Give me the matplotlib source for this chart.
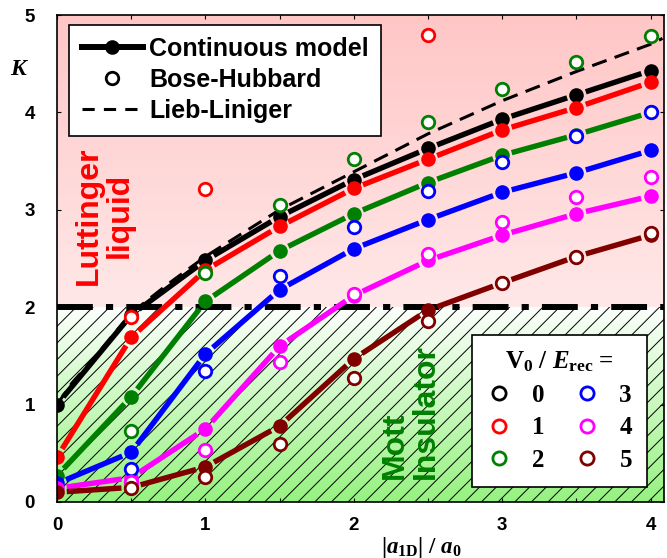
import numpy as np
import matplotlib
matplotlib.use("Agg")
import matplotlib.pyplot as plt
from matplotlib.lines import Line2D
from matplotlib.patches import Rectangle

# ---------------- data ----------------
x_vals = [0, 0.5, 1, 1.5, 2, 2.5, 3, 3.5, 4]
cont_V0 = [1.00, 1.92, 2.48, 2.93, 3.31, 3.63, 3.93, 4.18, 4.43]
cont_V1 = [0.46, 1.69, 2.38, 2.83, 3.22, 3.52, 3.82, 4.05, 4.31]
cont_V2 = [0.27, 1.08, 2.06, 2.58, 2.96, 3.28, 3.56, 3.77, 4.00]
cont_V3 = [0.19, 0.51, 1.52, 2.18, 2.60, 2.90, 3.18, 3.38, 3.61]
cont_V4 = [0.14, 0.25, 0.75, 1.60, 2.12, 2.48, 2.74, 2.96, 3.14]
cont_V5 = [0.10, 0.15, 0.36, 0.78, 1.47, 1.97, 2.25, 2.52, 2.74]

bh_x_V1 = [0.5, 1, 2.5]
bh_V1 = [1.90, 3.21, 4.79]
bh_x = [0.5, 1, 1.5, 2, 2.5, 3, 3.5, 4]
bh_V2 = [0.73, 2.35, 3.05, 3.52, 3.90, 4.24, 4.52, 4.78]
bh_V3 = [0.34, 1.35, 2.32, 2.82, 3.19, 3.49, 3.76, 4.00]
bh_V4 = [0.21, 0.53, 1.44, 2.14, 2.55, 2.87, 3.13, 3.34]
bh_V5 = [0.14, 0.26, 0.60, 1.27, 1.86, 2.25, 2.52, 2.76]

ll_x = [0, 0.1, 0.25, 0.5, 0.75, 1, 1.5, 2, 2.5, 3, 3.5, 4, 4.08]
ll_K = [1.00, 1.22, 1.48, 1.94, 2.24, 2.52, 3.00, 3.39, 3.78, 4.12, 4.42, 4.70, 4.76]

K_mott = 2.0
V0_labels = ["0", "1", "2", "3", "4", "5"]
colors = ["black", "#ff0000", "#008000", "#0000ff", "#ff00ff", "#800000"]
xticks = [0, 1, 2, 3, 4]
yticks = [0, 1, 2, 3, 4, 5]

# ---------------- style ----------------
plt.rcParams["mathtext.fontset"] = "custom"
plt.rcParams["mathtext.rm"] = "Liberation Serif:bold"
plt.rcParams["mathtext.bf"] = "Liberation Serif:bold"
plt.rcParams["mathtext.it"] = "Liberation Serif:italic:bold"
plt.rcParams["hatch.linewidth"] = 0.7

SANS = "Liberation Sans"
SERIF = "Liberation Serif"

fig = plt.figure(figsize=(6.67, 5.58), dpi=100)
ax = fig.add_axes([57 / 667, 1 - 502 / 558, 607 / 667, 487 / 558])
XMAX = 4.09
ax.set_xlim(0, XMAX)
ax.set_ylim(0, 5)

# backgrounds
grad = np.linspace(0, 1, 256)[:, None, None]
c_top = np.array([255, 198, 198]) / 255
c_mid = np.array([255, 232, 232]) / 255
img_top = np.repeat(c_mid * (1 - grad) + c_top * grad, 2, axis=1)
ax.imshow(img_top, extent=[0, XMAX, K_mott, 5], origin="lower", aspect="auto", zorder=0)

c_white = np.array([252, 255, 252]) / 255
c_green = np.array([150, 242, 128]) / 255
img_bot = np.repeat(c_green * (1 - grad) + c_white * grad, 2, axis=1)
ax.imshow(img_bot, extent=[0, XMAX, 0, K_mott], origin="lower", aspect="auto", zorder=0)

ax.add_patch(Rectangle((0, 0), XMAX, K_mott, fill=False, hatch="//", edgecolor="black",
                       linewidth=0, zorder=1))
ax.set_xlim(0, XMAX)
ax.set_ylim(0, 5)

# Mott boundary
ax.plot([0, XMAX], [K_mott, K_mott], color="black", lw=4.3, dashes=(6, 2.2, 1.2, 2.2),
        zorder=2)

# Lieb-Liniger
ax.plot(ll_x, ll_K, color="black", lw=2.2, dashes=(5, 2.8), zorder=2.2)

# region texts
ax.text(0.32, 2.94, "Luttinger\nliquid", rotation=90, color="#ff0000", fontsize=23,
        fontweight="bold", family=SANS, ha="center", va="center",
        multialignment="center", zorder=2.5, linespacing=1.05)
ax.text(2.38, 0.93, "Mott\nInsulator", rotation=90, color="#008000", fontsize=23,
        fontweight="bold", family=SANS, ha="center", va="center",
        multialignment="left", zorder=2.5, linespacing=1.05)

# continuous model lines with gaps near markers
MS_F = 10.5
SHRINK = MS_F * 100 / 72 / 2 + 2.5


def gapped_line(xs, ys, color, lw):
    pts = ax.transData.transform(np.column_stack([xs, ys]))
    inv = ax.transData.inverted()
    for p0, p1 in zip(pts[:-1], pts[1:]):
        d = p1 - p0
        L = np.hypot(*d)
        if L <= 2 * SHRINK:
            continue
        u = d / L
        seg = inv.transform(np.array([p0 + u * SHRINK, p1 - u * SHRINK]))
        ax.plot(seg[:, 0], seg[:, 1], color=color, lw=lw, solid_capstyle="butt", zorder=3)


cont = [cont_V0, cont_V1, cont_V2, cont_V3, cont_V4, cont_V5]
for ys, c in zip(cont, colors):
    gapped_line(x_vals, ys, c, 3.9)
    ax.plot(x_vals, ys, ls="none", marker="o", ms=MS_F, mfc=c, mec=c, mew=0, zorder=3)

# Bose-Hubbard points
bh = [(bh_x_V1, bh_V1, colors[1]), (bh_x, bh_V2, colors[2]), (bh_x, bh_V3, colors[3]),
      (bh_x, bh_V4, colors[4]), (bh_x, bh_V5, colors[5])]
for xs, ys, c in bh:
    ax.plot(xs, ys, ls="none", marker="o", ms=9, mfc="white", mec=c, mew=2, zorder=4)

# axes styling
for s in ax.spines.values():
    s.set_linewidth(1.2)
    s.set_zorder(6)
ax.set_xticks(xticks)
ax.set_yticks(yticks)
ax.set_xticks(np.arange(0, 4.01, 0.5), minor=True)
ax.tick_params(axis="both", which="both", direction="in", top=True, right=True,
               length=3, width=0.8)
ax.tick_params(axis="x", which="major", pad=11)
ax.tick_params(axis="y", which="major", pad=16)
for lab in ax.get_xticklabels() + ax.get_yticklabels():
    lab.set_fontfamily(SANS)
    lab.set_fontweight("bold")
    lab.set_fontsize(13.5)

# axis labels
fig.text(20 / 667, 1 - 68 / 558, r"$K$", fontsize=17, ha="center", va="center")
fig.text(421 / 667, 1 - 547 / 558, r"$|a_{\mathrm{1D}}|\ /\ a_{0}$", fontsize=16.5,
         ha="center", va="center")

# legend 1
h1 = [Line2D([], [], color="black", lw=4.3, marker="o", ms=MS_F, mfc="black", mew=0),
      Line2D([], [], ls="none", marker="o", ms=9, mfc="white", mec="black", mew=2),
      Line2D([], [], color="black", lw=2.2, dashes=(4, 3))]
leg1 = ax.legend(h1, ["Continuous model", "Bose-Hubbard", "Lieb-Liniger"],
                 loc="upper left", bbox_to_anchor=(0.02, 0.98), borderaxespad=0,
                 prop={"family": SANS, "weight": "bold", "size": 18},
                 handlelength=2.45, handletextpad=0.25, labelspacing=0.28,
                 borderpad=0.5, fancybox=False, framealpha=1, edgecolor="black")
leg1.get_frame().set_linewidth(1.2)
leg1.set_zorder(7)
ax.add_artist(leg1)

# legend 2
h2 = [Line2D([], [], ls="none", marker="o", ms=9.5, mfc="white", mec=c, mew=2) for c in colors]
leg2 = ax.legend(h2, V0_labels, ncol=2, loc="lower right", bbox_to_anchor=(0.972, 0.031),
                 borderaxespad=0, title=r"$\mathrm{V}_{0}$ / $E_{\mathrm{rec}}$ =",
                 prop={"family": SERIF, "weight": "bold", "size": 18},
                 title_fontproperties={"family": SERIF, "weight": "bold", "size": 18},
                 handlelength=1.0, handletextpad=0.8, columnspacing=1.2,
                 labelspacing=0.38, borderpad=0.6, fancybox=False, framealpha=1,
                 edgecolor="black")
leg2.get_frame().set_linewidth(1.2)
leg2.set_zorder(7)

fig.savefig("out.png", dpi=100)
